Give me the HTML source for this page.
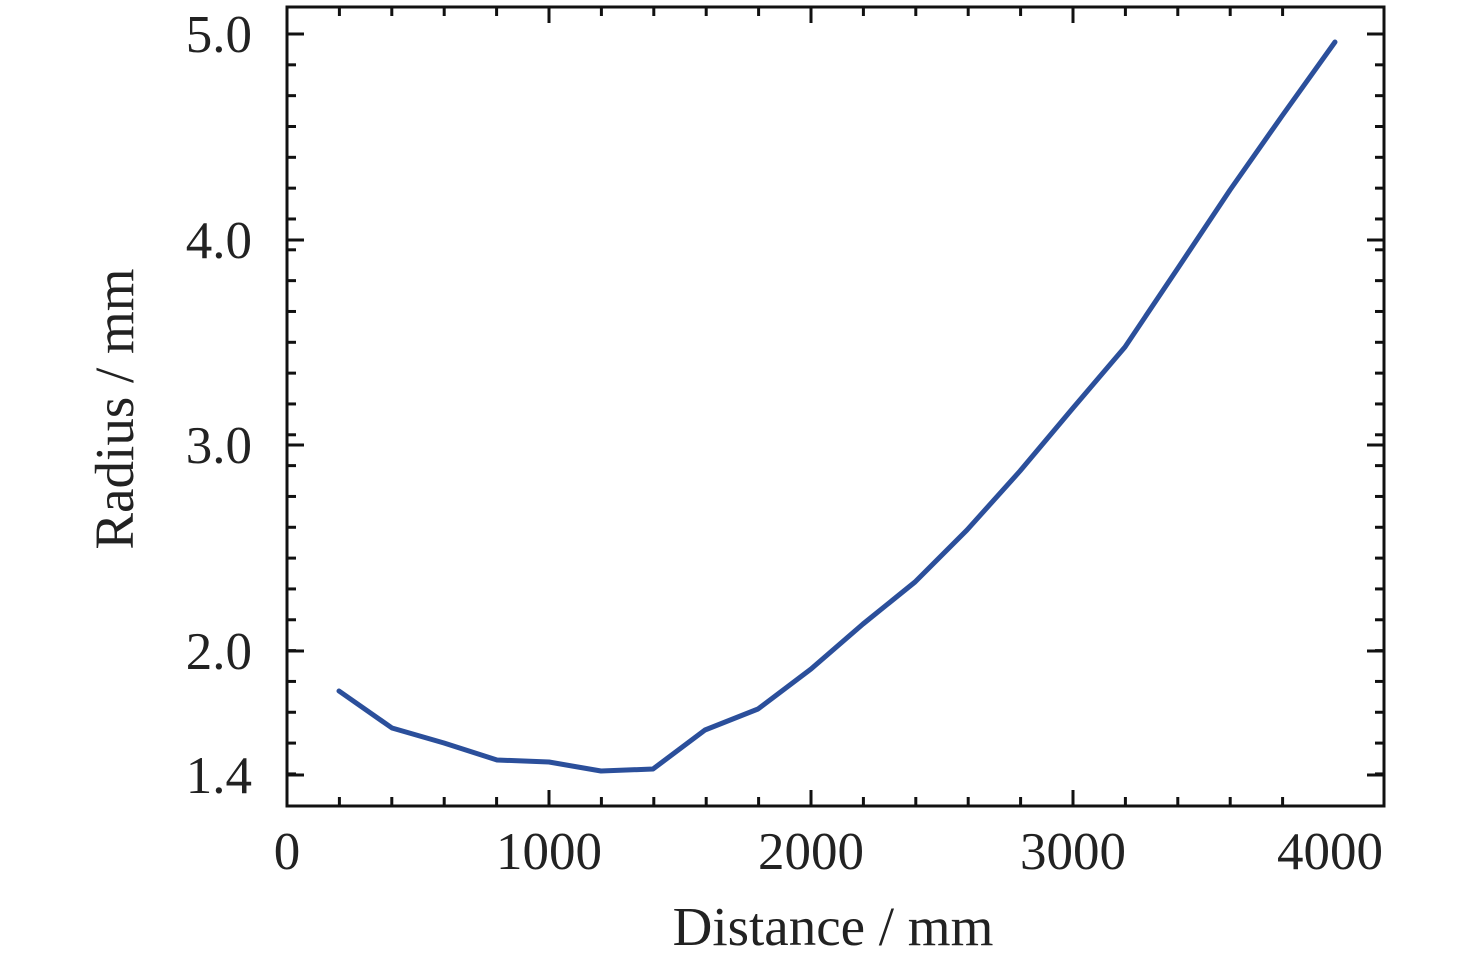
<!DOCTYPE html>
<html><head><meta charset="utf-8"><style>
html,body{margin:0;padding:0;background:#fff;}
svg text{font-family:"Liberation Serif",serif;fill:#222;}
</style></head><body>
<svg width="1476" height="961" viewBox="0 0 1476 961" xmlns="http://www.w3.org/2000/svg">
<g id="ticks" stroke="#111" stroke-width="3"></g>
<rect x="287" y="7" width="1097" height="799" fill="none" stroke="#111" stroke-width="3"/>
<polyline fill="none" stroke="#2b4f9b" stroke-width="5" stroke-linejoin="round" stroke-linecap="round"
points="339,691 392,728 444,743 497,760 549,762 601,771 653,769 705,730 758,709 811,669 863,624 915,582 967,530 1020,471 1073,408 1125,347 1178,268 1230,190 1282,116 1335,42"/>
<g font-size="53">
<text x="252" y="52" text-anchor="end">5.0</text>
<text x="252" y="258" text-anchor="end">4.0</text>
<text x="252" y="463" text-anchor="end">3.0</text>
<text x="252" y="669" text-anchor="end">2.0</text>
<text x="252" y="793" text-anchor="end">1.4</text>
<text x="287" y="869" text-anchor="middle">0</text>
<text x="549" y="869" text-anchor="middle">1000</text>
<text x="811" y="869" text-anchor="middle">2000</text>
<text x="1073" y="869" text-anchor="middle">3000</text>
<text x="1330" y="869" text-anchor="middle">4000</text>
</g>
<text x="833" y="945" font-size="55" text-anchor="middle">Distance / mm</text>
<text transform="translate(133,409) rotate(-90)" font-size="55" text-anchor="middle">Radius / mm</text>
</svg>
<script>
var g=document.getElementById('ticks'),s='';
function L(a,b,c,d){s+='<line x1="'+a+'" y1="'+b+'" x2="'+c+'" y2="'+d+'"/>';}
for(var k=1;k<20;k++){var x=287+k*52.4;var maj=(k%5==0);var l=maj?16:9;L(x,806,x,806-l);L(x,7,x,7+l);}
for(var k=0;k<=24;k++){var y=34+k*30.83;L(287,y,296,y);L(1384,y,1375,y);}
[34,240,445,651,775].forEach(function(y){L(287,y,304,y);L(1384,y,1367,y);});
g.innerHTML=s;
</script>
</body></html>
